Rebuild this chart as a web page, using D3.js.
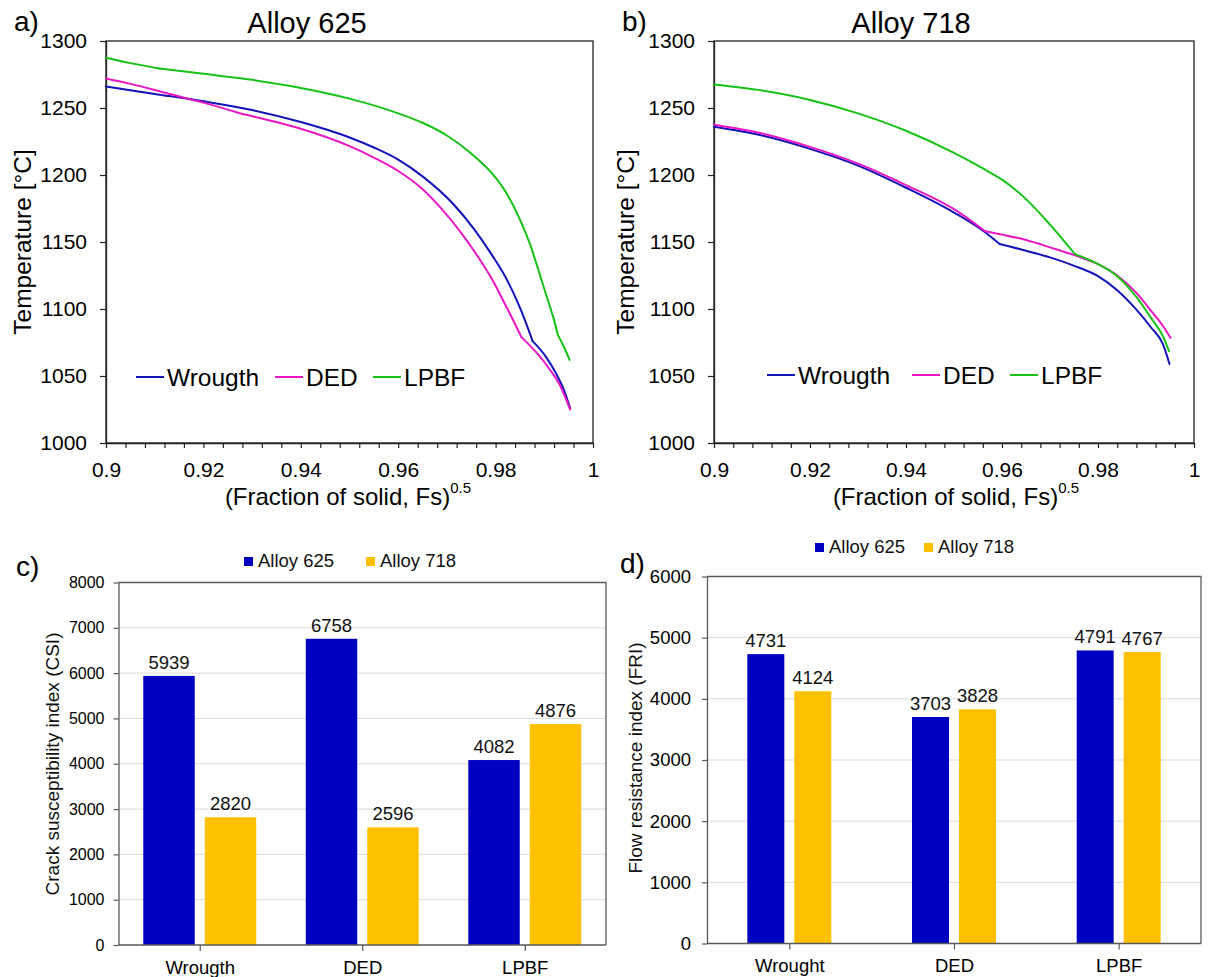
<!DOCTYPE html>
<html>
<head>
<meta charset="utf-8">
<script src="https://cdn.jsdelivr.net/npm/d3@7"></script>
<style>
  body { margin: 0; background: #fff; }
  svg { display: block; }
</style>
</head>
<body>
<script>
// ---------- solidification curves: [ (Fs)^0.5 , temperature °C ] ----------
// each curve is stored as smooth pieces that meet at the sharp bends of the path
const fsTickLabels = ["0.9", "0.92", "0.94", "0.96", "0.98", "1"];
const tempTicks = [1000, 1050, 1100, 1150, 1200, 1250, 1300];
const curveNames = ["Wrougth", "DED", "LPBF"];

const a625Wrought = [
  [[0.9,1266],[0.91,1260.5],[0.92,1255],[0.93,1248.5],[0.94,1239.5],[0.95,1228],[0.955,1220.5],
   [0.96,1211.5],[0.965,1199],[0.9714,1178],[0.9755,1160],[0.9793,1140],[0.9823,1122],[0.9844,1106],
   [0.9861,1091],[0.9876,1076]],
  [[0.9876,1076],[0.9903,1064.5],[0.9924,1052],[0.9941,1039],[0.9953,1026]]
];
const a625DED = [
  [[0.9,1272],[0.905,1268],[0.91,1263.5],[0.9157,1258],[0.92,1254],[0.928,1245.5]],
  [[0.928,1245.5],[0.935,1239.5],[0.94,1234.5],[0.95,1221.5],[0.955,1213],[0.96,1203],[0.9645,1191],
   [0.9686,1176],[0.9727,1158],[0.9762,1140],[0.9793,1122],[0.9816,1106],[0.9837,1091],[0.9853,1079]],
  [[0.9853,1079],[0.9885,1067],[0.9912,1054.5],[0.9933,1042.5],[0.9953,1025]]
];
const a625LPBF = [
  [[0.9,1287.5],[0.905,1283.5],[0.911,1279.5]],
  [[0.911,1279.5],[0.92,1275.5],[0.93,1271],[0.94,1265],[0.95,1257],[0.96,1246],[0.965,1239],
   [0.97,1229.5],[0.975,1216],[0.98,1198],[0.9823,1186],[0.9851,1166],[0.9871,1148],[0.9888,1129],
   [0.9906,1108],[0.9919,1093],[0.9928,1080.5]],
  [[0.9928,1080.5],[0.994,1072],[0.9952,1062]]
];

const b718Wrought = [
  [[0.9,1236],[0.91,1229.5],[0.92,1219.5],[0.93,1207],[0.94,1190.5],[0.95,1172],[0.9562,1158],
   [0.9595,1148.5]],
  [[0.9595,1148.5],[0.965,1143.5],[0.97,1138.5],[0.9752,1132],[0.98,1124.5],[0.984,1114],
   [0.988,1099.5],[0.9911,1086],[0.9935,1074],[0.9949,1059]]
];
const b718DED = [
  [[0.9,1237.5],[0.91,1231],[0.92,1221],[0.93,1208.5],[0.94,1192.5],[0.95,1174.5],[0.9565,1158]],
  [[0.9565,1158],[0.96,1155.5],[0.965,1151.5],[0.97,1146],[0.9752,1140],[0.98,1133.5],[0.984,1125],
   [0.988,1112],[0.9911,1098.5],[0.9935,1087.5],[0.9951,1078.5]]
];
const b718LPBF = [
  [[0.9,1267.5],[0.91,1263],[0.92,1256],[0.93,1246],[0.94,1233],[0.95,1216.5],[0.956,1205],
   [0.96,1196.5],[0.965,1182],[0.97,1163],[0.9752,1141]],
  [[0.9752,1141],[0.98,1133.5],[0.984,1124.5],[0.988,1109],[0.9911,1093],[0.9935,1080],[0.9948,1068.5]]
];

// ---------- index bar charts ----------
const alloyNames = ["Alloy 625", "Alloy 718"];
const csiCategories = ["Wrougth", "DED", "LPBF"];
const csi625 = [5939, 6758, 4082];
const csi718 = [2820, 2596, 4876];
const csiTicks = [0, 1000, 2000, 3000, 4000, 5000, 6000, 7000, 8000];

const friCategories = ["Wrought", "DED", "LPBF"];
const fri625 = [4731, 3703, 4791];
const fri718 = [4124, 3828, 4767];
const friTicks = [0, 1000, 2000, 3000, 4000, 5000, 6000];

// ---------- styling ----------
const FONT = "'Liberation Sans', Arial, Helvetica, sans-serif";
const lineColors = ["#1212b8", "#ea16c4", "#16c216"];
const barColors = ["#0000c0", "#ffc000"];

const svg = d3.select("body").append("svg")
  .attr("width", 1208).attr("height", 977)
  .attr("font-family", FONT);
svg.append("rect").attr("width", 1208).attr("height", 977).attr("fill", "#fff");

function styleAxis(g, size, color) {
  g.attr("font-family", FONT).attr("font-size", size);
  g.selectAll("text").attr("fill", "#000");
  g.selectAll("line").attr("stroke", color).attr("stroke-width", 1.2);
  g.select(".domain").attr("stroke", color).attr("stroke-width", 1.3);
}

// ---------- line panels (a, b) ----------
function linePanel(o) {
  const g = svg.append("g");
  const x = d3.scaleLinear().domain([0.9, 1]).range([o.x0, o.x1]);
  const y = d3.scaleLinear().domain([1000, 1300]).range([o.y1, o.y0]);

  // minor ticks every 0.004, labels every 0.02
  const xTickVals = d3.range(26).map(i => 0.9 + i * 0.004);
  const xa = g.append("g").attr("transform", `translate(0,${o.y1})`)
    .call(d3.axisBottom(x).tickValues(xTickVals).tickSize(5).tickSizeOuter(0).tickPadding(14.5)
      .tickFormat((d, i) => i % 5 === 0 ? fsTickLabels[i / 5] : ""));
  styleAxis(xa, 21, "#222");

  const ya = g.append("g").attr("transform", `translate(${o.x0},0)`)
    .call(d3.axisLeft(y).tickValues(tempTicks).tickSize(6).tickSizeOuter(0).tickPadding(13)
      .tickFormat(d3.format("d")));
  styleAxis(ya, 21, "#222");

  g.append("rect").attr("x", o.x0).attr("y", o.y0)
    .attr("width", o.x1 - o.x0).attr("height", o.y1 - o.y0)
    .attr("fill", "none").attr("stroke", "#222").attr("stroke-width", 1.3);

  const line = d3.line().x(d => x(d[0])).y(d => y(d[1])).curve(d3.curveMonotoneX);
  o.series.forEach((pieces, i) => {
    g.append("g").selectAll("path").data(pieces).join("path")
      .attr("d", line)
      .attr("fill", "none").attr("stroke", lineColors[i])
      .attr("stroke-width", 2).attr("stroke-linejoin", "round").attr("stroke-linecap", "round");
  });

  // legend
  curveNames.forEach((name, i) => {
    const lx = o.legendX[i];
    g.append("line").attr("x1", lx).attr("x2", lx + 28)
      .attr("y1", o.legendY).attr("y2", o.legendY)
      .attr("stroke", lineColors[i]).attr("stroke-width", 2);
    g.append("text").attr("x", lx + 31).attr("y", o.legendY + 8.5)
      .attr("font-size", 24.5).attr("fill", "#000").text(name);
  });

  // titles
  g.append("text").attr("x", o.titleX).attr("y", 33).attr("text-anchor", "middle")
    .attr("font-size", 29).attr("fill", "#000").text(o.title);
  g.append("text").attr("x", o.tagX).attr("y", 31)
    .attr("font-size", 28).attr("fill", "#000").text(o.tag);

  const xt = g.append("text").attr("x", o.x0 + 242).attr("y", 505)
    .attr("text-anchor", "middle").attr("font-size", 24).attr("fill", "#000");
  xt.append("tspan").text("(Fraction of solid, Fs)");
  xt.append("tspan").attr("dy", -12).attr("font-size", 15).text("0.5");

  g.append("text").attr("transform", `translate(${o.yTitleX},242) rotate(-90)`)
    .attr("text-anchor", "middle").attr("font-size", 24.5).attr("fill", "#000")
    .text("Temperature [°C]");
}

linePanel({
  x0: 106, x1: 593, y0: 41, y1: 443, title: "Alloy 625", titleX: 307, tag: "a)", tagX: 14,
  yTitleX: 31, series: [a625Wrought, a625DED, a625LPBF], legendX: [136, 275, 373], legendY: 377
});
linePanel({
  x0: 714, x1: 1194, y0: 41, y1: 443, title: "Alloy 718", titleX: 911, tag: "b)", tagX: 622,
  yTitleX: 634, series: [b718Wrought, b718DED, b718LPBF], legendX: [767, 912, 1010], legendY: 375
});

// ---------- bar panels (c, d) ----------
function barPanel(o) {
  const g = svg.append("g");
  const x0 = d3.scaleBand().domain(o.cats).range([o.x0, o.x1])
    .paddingInner(o.padIn).paddingOuter(o.padIn / 2);
  const x1 = d3.scaleBand().domain(alloyNames).range([0, x0.bandwidth()]).paddingInner(o.barGap);
  const y = d3.scaleLinear().domain([0, o.max]).range([o.y1, o.y0]);

  // gridlines
  g.append("g").selectAll("line").data(o.ticks.slice(1)).join("line")
    .attr("x1", o.x0).attr("x2", o.x1)
    .attr("y1", d => y(d)).attr("y2", d => y(d))
    .attr("stroke", "#d9d9d9").attr("stroke-width", 1);

  // frame (top + right)
  g.append("path").attr("d", `M${o.x0},${o.y0}H${o.x1}V${o.y1}`)
    .attr("fill", "none").attr("stroke", "#595959").attr("stroke-width", 1.3);

  const series = [o.v625, o.v718];
  series.forEach((vals, si) => {
    const key = alloyNames[si];
    g.append("g").selectAll("rect").data(vals).join("rect")
      .attr("x", (d, i) => x0(o.cats[i]) + x1(key))
      .attr("y", d => y(d))
      .attr("width", x1.bandwidth())
      .attr("height", d => y(0) - y(d))
      .attr("fill", barColors[si]);
    g.append("g").selectAll("text").data(vals).join("text")
      .attr("x", (d, i) => x0(o.cats[i]) + x1(key) + x1.bandwidth() / 2)
      .attr("y", d => y(d) - 7)
      .attr("text-anchor", "middle").attr("font-size", 18.5).attr("fill", "#111")
      .text(d => d);
  });

  const ya = g.append("g").attr("transform", `translate(${o.x0},0)`)
    .call(d3.axisLeft(y).tickValues(o.ticks).tickSize(5).tickSizeOuter(0)
      .tickPadding(o.yPad).tickFormat(d3.format("d")));
  styleAxis(ya, o.yFont, "#595959");

  // category axis with ticks at group centres
  const xc = d3.scalePoint().domain(o.cats)
    .range([x0(o.cats[0]) + x0.bandwidth() / 2, x0(o.cats[2]) + x0.bandwidth() / 2]);
  const xa = g.append("g").attr("transform", `translate(0,${o.y1})`)
    .call(d3.axisBottom(xc).tickSize(6).tickSizeOuter(0).tickPadding(9.5));
  xa.select(".domain").remove();
  styleAxis(xa, 18.5, "#595959");
  g.append("line").attr("x1", o.x0).attr("x2", o.x1).attr("y1", o.y1).attr("y2", o.y1)
    .attr("stroke", "#595959").attr("stroke-width", 1.3);

  // legend
  alloyNames.forEach((name, i) => {
    g.append("rect").attr("x", o.legX[i]).attr("y", o.legY - 10)
      .attr("width", 9).attr("height", 9).attr("fill", barColors[i]);
    g.append("text").attr("x", o.legX[i] + 14).attr("y", o.legY)
      .attr("font-size", 18.5).attr("fill", "#111").text(name);
  });

  g.append("text").attr("transform", `translate(${o.yTitleX},${o.yTitleY}) rotate(-90)`)
    .attr("text-anchor", "middle").attr("font-size", 19).attr("fill", "#111").text(o.yTitle);

  g.append("text").attr("x", o.tagX).attr("y", o.tagY)
    .attr("font-size", 28).attr("fill", "#000").text(o.tag);
}

barPanel({
  x0: 118.5, x1: 606, y0: 582.5, y1: 945, max: 8000, ticks: csiTicks,
  cats: csiCategories, v625: csi625, v718: csi718, padIn: 0.305, barGap: 0.163,
  yFont: 16, yPad: 9, legX: [244, 366], legY: 567,
  yTitle: "Crack susceptibility index (CSI)", yTitleX: 59, yTitleY: 764,
  tag: "c)", tagX: 16, tagY: 576
});
barPanel({
  x0: 707, x1: 1201, y0: 576.5, y1: 943.5, max: 6000, ticks: friTicks,
  cats: friCategories, v625: fri625, v718: fri718, padIn: 0.49, barGap: 0.213,
  yFont: 18.5, yPad: 11, legX: [815, 924], legY: 553,
  yTitle: "Flow resistance index (FRI)", yTitleX: 642, yTitleY: 758,
  tag: "d)", tagX: 620, tagY: 573
});
</script>
</body>
</html>
